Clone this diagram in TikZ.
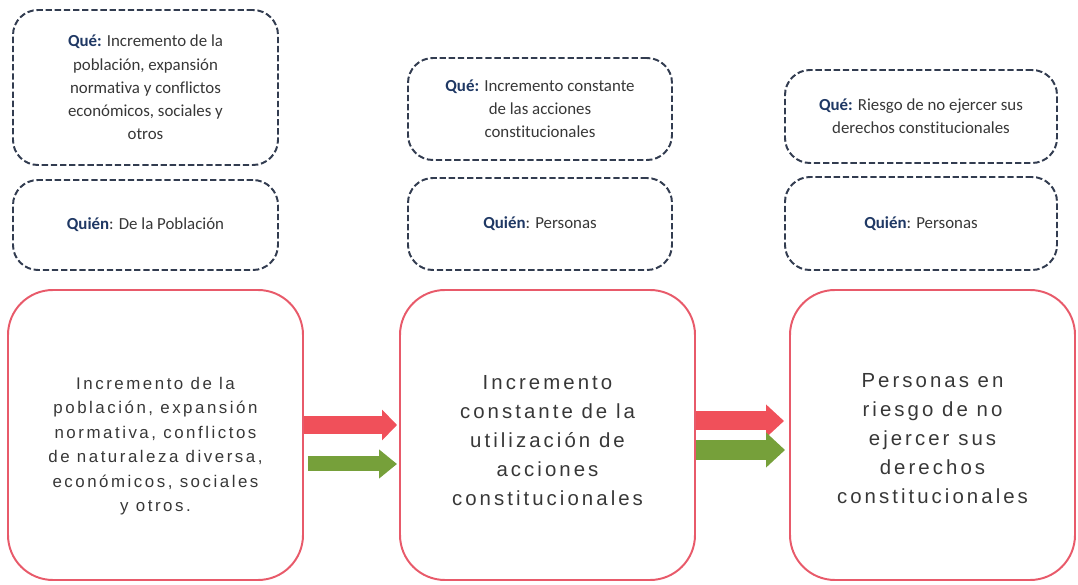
\documentclass[tikz,border=0pt]{standalone}
\usepackage{fontspec}
\setmainfont{Carlito}[Ligatures=NoCommon]
\newfontfamily\spacedsans[LetterSpace=15]{Liberation Sans}
\usetikzlibrary{arrows.meta}

\newlength{\du}
\setlength{\du}{0.025cm}

\definecolor{quecolor}{RGB}{31,56,100}
\definecolor{dashcolor}{RGB}{50,60,80}
\definecolor{boxred}{RGB}{232,90,106}
\definecolor{arrowred}{RGB}{240,80,90}
\definecolor{arrowgreen}{RGB}{118,160,58}
\definecolor{textgray}{RGB}{55,55,55}

\tikzset{
  askbox/.style={draw=dashcolor, line width=1.4pt, dash pattern=on 4.5pt off 2pt,
    rounded corners=25\du, align=center, text=textgray, font=\fontsize{12}{16.5}\selectfont},
  mainbox/.style={draw=boxred, line width=1.4pt, rounded corners=45\du,
    minimum width=295\du, minimum height=290\du},
  bodytext/.style={align=center, text=textgray, font=\spacedsans\fontsize{14.5}{20.6}\selectfont},
  redarrow/.style={arrowred, line width=18\du, -{Triangle[length=0.375cm,width=0.75cm]}},
  greenarrow/.style={arrowgreen, line width=16\du, -{Triangle[length=0.45cm,width=0.7cm]}}
}
\newcommand{\que}{\textcolor{quecolor}{\textbf{Qué:}}}
\newcommand{\quien}{\textcolor{quecolor}{\textbf{Quién}}:}

\begin{document}
\begin{tikzpicture}
\useasboundingbox (0,0) rectangle (1078\du,585\du);
% upper row: who and what
\node[askbox, minimum width=265\du, minimum height=155\du] (aque) at (145.5\du,497.5\du)
  {\que{} Incremento de la\\población, expansión\\normativa y conflictos\\económicos, sociales y\\otros};
\node[askbox, minimum width=265\du, minimum height=90\du] (aquien) at (145.5\du,360\du)
  {\quien{} De la Población};
\node[askbox, minimum width=264\du, minimum height=102\du] (bque) at (540\du,476\du)
  {\que{} Incremento constante\\de las acciones\\constitucionales};
\node[askbox, minimum width=264\du, minimum height=92\du] (bquien) at (540\du,361\du)
  {\quien{} Personas};
\node[askbox, minimum width=272\du, minimum height=93\du] (cque) at (921\du,468.5\du)
  {\que{} Riesgo de no ejercer sus\\derechos constitucionales};
\node[askbox, minimum width=272\du, minimum height=93\du] (cquien) at (921\du,361.5\du)
  {\quien{}  Personas};
% lower row
\node[mainbox] (lbox) at (155.5\du,150\du) {};
\node[mainbox] (mbox) at (547.5\du,150\du) {};
\node[mainbox, minimum width=285\du] (rbox) at (932.5\du,150\du) {};
\node[bodytext, font=\spacedsans\fontsize{12}{17.4}\selectfont] (ltext) at ([yshift=-11\du]lbox.center)
  {Incremento de la\\población, expansión\\normativa, conflictos\\de naturaleza diversa,\\económicos, sociales\\y otros.};
\node[bodytext] (mtext) at ([yshift=-6\du]mbox.center)
  {Incremento\\constante de la\\utilización de\\acciones\\constitucionales};
\node[bodytext] (rtext) at ([yshift=-4\du]rbox.center)
  {Personas en\\riesgo de no\\ejercer sus\\derechos\\constitucionales};
% block arrows
\draw[redarrow, shorten >=2\du] ([yshift=10\du]lbox.east) -- ([yshift=10\du]mbox.west);
\draw[greenarrow, line width=15\du, shorten <=4\du, shorten >=2\du] ([yshift=-29\du]lbox.east) -- ([yshift=-29\du]mbox.west);
\draw[redarrow, line width=19\du, -{Triangle[length=0.45cm,width=0.8cm]}, shorten >=5\du] ([yshift=14\du]mbox.east) -- ([yshift=14\du]rbox.west);
\draw[greenarrow, line width=20\du, -{Triangle[length=0.475cm,width=0.85cm]}, shorten >=4\du] ([yshift=-15\du]mbox.east) -- ([yshift=-15\du]rbox.west);
\end{tikzpicture}
\end{document}
